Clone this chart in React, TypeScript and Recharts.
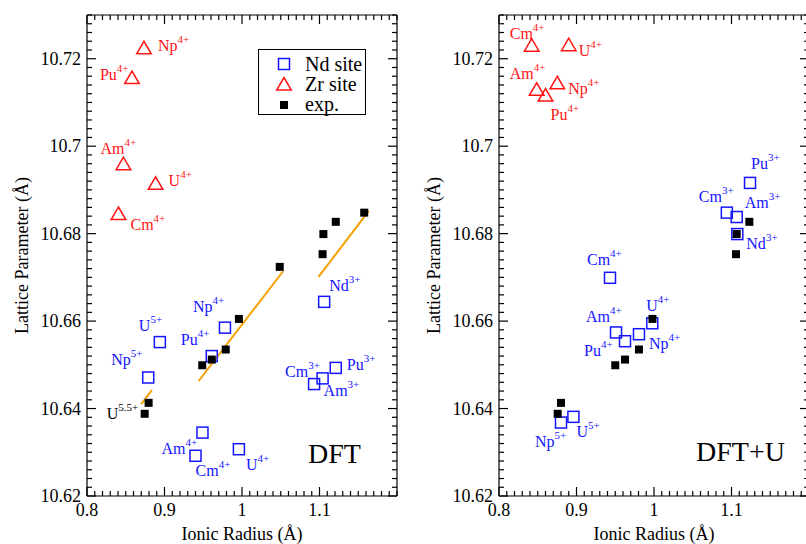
import React from 'react'
import { ScatterChart, Scatter, XAxis, YAxis } from 'recharts'

const FONT = '"Liberation Serif", "Times New Roman", serif'
const BLUE = '#1414ff'
const RED = '#ff1414'
const ORANGE = '#f5a000'

// axis ticks
const xMajor = [0.8, 0.9, 1, 1.1]
const yMajor = [10.62, 10.64, 10.66, 10.68, 10.7, 10.72]
const xTicks = Array.from({ length: 41 }, (_, i) => Math.round((0.8 + i * 0.01) * 1000) / 1000)
const yTicks = Array.from({ length: 56 }, (_, i) => Math.round((10.62 + i * 0.002) * 10000) / 10000)

// ---- DFT panel ----
const dftNdIons = ['Nd', 'U', 'Np', 'Np', 'Pu', 'Pu', 'Cm', 'Am', 'Am', 'Cm', 'U']
const dftNdCharges = ['3+', '5+', '5+', '4+', '4+', '3+', '3+', '3+', '4+', '4+', '4+']
const dftNdRadius = [1.106, 0.894, 0.879, 0.978, 0.961, 1.121, 1.093, 1.104, 0.949, 0.94, 0.996]
const dftNdLattice = [10.6644, 10.6552, 10.6471, 10.6585, 10.652, 10.6493, 10.6456, 10.6469, 10.6345, 10.6292, 10.6307]

const dftZrIons = ['Np', 'Pu', 'Am', 'U', 'Cm']
const dftZrCharges = ['4+', '4+', '4+', '4+', '4+']
const dftZrRadius = [0.8735, 0.858, 0.847, 0.8885, 0.8406]
const dftZrLattice = [10.7225, 10.7157, 10.696, 10.6915, 10.6846]

const dftExpIons = ['', '', '', '', '', '', '', '', '', '', 'U']
const dftExpCharges = ['', '', '', '', '', '', '', '', '', '', '5.5+']
const dftExpRadius = [1.1577, 1.121, 1.105, 1.104, 1.0487, 0.996, 0.979, 0.961, 0.9487, 0.8795, 0.8744]
const dftExpLattice = [10.6848, 10.6827, 10.6799, 10.6753, 10.6724, 10.6605, 10.6535, 10.6512, 10.6499, 10.6413, 10.6388]

const dftFitRadius = [[0.87, 0.8837], [0.944, 1.053], [1.0987, 1.1637]]
const dftFitLattice = [[10.641, 10.6442], [10.6463, 10.6714], [10.6701, 10.6852]]

// ---- DFT+U panel ----
const dftuNdIons = ['Pu', 'Cm', 'Am', 'Nd', 'Cm', 'U', 'Am', 'Np', 'Pu', 'Np', 'U']
const dftuNdCharges = ['3+', '3+', '3+', '3+', '4+', '4+', '4+', '4+', '4+', '5+', '5+']
const dftuNdRadius = [1.1239, 1.094, 1.1067, 1.1075, 0.9432, 0.9978, 0.951, 0.9806, 0.9626, 0.88, 0.896]
const dftuNdLattice = [10.6916, 10.6848, 10.6838, 10.6799, 10.6699, 10.6595, 10.6574, 10.657, 10.6554, 10.6368, 10.6381]

const dftuZrIons = ['Cm', 'U', 'Am', 'Np', 'Pu']
const dftuZrCharges = ['4+', '4+', '4+', '4+', '4+']
const dftuZrRadius = [0.8422, 0.89, 0.8486, 0.8752, 0.86]
const dftuZrLattice = [10.7231, 10.7232, 10.713, 10.7145, 10.7117]

const dftuExpRadius = [1.123, 1.1067, 1.1058, 0.998, 0.9806, 0.9626, 0.95, 0.88, 0.8757]
const dftuExpLattice = [10.6827, 10.6799, 10.6753, 10.6605, 10.6535, 10.6512, 10.6499, 10.6413, 10.6388]

const legendItems = ['Nd site', 'Zr site', 'exp.']

// label placement (text start / baseline, relative to the marker centre)
const dftLabelPos: Record<string, [number, number]> = {
  'zr:Np4+': [14, 3], 'zr:Pu4+': [-32, 2], 'zr:Am4+': [-23, -10], 'zr:U4+': [13, 3], 'zr:Cm4+': [12, 16],
  'nd:Nd3+': [5, -11], 'nd:U5+': [-21, -11], 'nd:Np5+': [-37, -12], 'nd:Np4+': [-32, -16], 'nd:Pu4+': [-31, -11],
  'nd:Pu3+': [11, 2], 'nd:Cm3+': [-29, -7], 'nd:Am3+': [1, 18], 'nd:Am4+': [-41, 21], 'nd:Cm4+': [0, 20],
  'nd:U4+': [7, 21], 'exp:U5.5+': [-38, 5],
}
const dftuLabelPos: Record<string, [number, number]> = {
  'zr:Cm4+': [-22, -6], 'zr:U4+': [10, 11], 'zr:Am4+': [-27, -10], 'zr:Np4+': [11, 11], 'zr:Pu4+': [5, 25],
  'nd:Pu3+': [1, -14], 'nd:Cm3+': [-28, -11], 'nd:Am3+': [8, -9], 'nd:Nd3+': [9, 15], 'nd:Cm4+': [-23, -13],
  'nd:U4+': [-6, -12], 'nd:Am4+': [-30, -10], 'nd:Np4+': [10, 15], 'nd:Pu4+': [-41, 15], 'nd:Np5+': [-26, 24],
  'nd:U5+': [3, 20],
}

const toPoints = (r: number[], a: number[], ions?: string[], charges?: string[]) =>
  r.map((x, i) => ({ x, y: a[i], ion: ions ? ions[i] : '', charge: charges ? charges[i] : '' }))

const isMajor = (v: number, list: number[]) => list.some((m) => Math.abs(m - v) < 1e-6)

const IonLabel = ({ x, y, ion, charge, color }: any) => (
  <text x={x} y={y} fontFamily={FONT} fontSize={16} fill={color}>
    <tspan>{ion}</tspan>
    <tspan dy={-8} fontSize={11}>{charge}</tspan>
  </text>
)

const makeShape = (kind: 'square' | 'triangle' | 'filled', color: string, site: string, pos: Record<string, [number, number]>) =>
  (p: any) => {
    const { cx, cy, payload } = p
    const off = pos[`${site}:${payload.ion}${payload.charge}`]
    let mark
    if (kind === 'square') {
      mark = <rect x={cx - 5.5} y={cy - 5.5} width={11} height={11} fill="none" stroke={color} strokeWidth={1.5} />
    } else if (kind === 'triangle') {
      mark = <polygon points={`${cx},${cy - 6.5} ${cx - 7.3},${cy + 6} ${cx + 7.3},${cy + 6}`} fill="none" stroke={color} strokeWidth={1.5} />
    } else {
      mark = <rect x={cx - 4} y={cy - 4} width={8} height={8} fill={color} />
    }
    return (
      <g>
        {mark}
        {off && <IonLabel x={cx + off[0]} y={cy + off[1]} ion={payload.ion} charge={payload.charge} color={color} />}
      </g>
    )
  }

// inward ticks, major ones longer
const TICK = { stroke: '#000', strokeWidth: 1.2 }
const XTickBottom = ({ x, y, payload }: any) => {
  const major = isMajor(payload.value, xMajor)
  return (
    <g>
      <path d={`M${x},${y}V${y - (major ? 9 : 5)}`} {...TICK} />
      {major && (
        <text x={x} y={y + 20} textAnchor="middle" fontFamily={FONT} fontSize={18} fill="#000">
          {String(payload.value)}
        </text>
      )}
    </g>
  )
}
const XTickTop = ({ x, y, payload }: any) => {
  const major = isMajor(payload.value, xMajor)
  return <path d={`M${x},${y}V${y + (major ? 9 : 5)}`} {...TICK} />
}
const YTickLeft = ({ x, y, payload }: any) => {
  const major = isMajor(payload.value, yMajor)
  return (
    <g>
      <path d={`M${x},${y}H${x + (major ? 9 : 5)}`} {...TICK} />
      {major && (
        <text x={x - 6} y={y + 6} textAnchor="end" fontFamily={FONT} fontSize={18} fill="#000">
          {String(payload.value)}
        </text>
      )}
    </g>
  )
}
const YTickRight = ({ x, y, payload }: any) => {
  const major = isMajor(payload.value, yMajor)
  return <path d={`M${x},${y}H${x - (major ? 9 : 5)}`} {...TICK} />
}

const titleStyle = { fontFamily: FONT, fontSize: 18, fill: '#000' }
const AXIS_LINE = { stroke: '#000', strokeWidth: 1.2 }

function Panel({ nd, zr, exp, fits, pos }: any) {
  return (
    <ScatterChart width={420} height={544} margin={{ top: 14, right: 22, bottom: 0, left: 0 }}>
      <XAxis xAxisId="b" type="number" dataKey="x" domain={[0.8, 1.2]} ticks={xTicks} interval={0}
        allowDataOverflow height={48} tickSize={0} tickMargin={0} tickLine={false} tick={XTickBottom}
        axisLine={AXIS_LINE}
        label={{ value: 'Ionic Radius (Å)', position: 'insideBottom', offset: 4, style: titleStyle }} />
      <XAxis xAxisId="t" orientation="top" type="number" dataKey="x" domain={[0.8, 1.2]} ticks={xTicks} interval={0}
        allowDataOverflow height={1} tickSize={0} tickMargin={0} tickLine={false} tick={XTickTop}
        axisLine={AXIS_LINE} />
      <YAxis yAxisId="l" type="number" dataKey="y" domain={[10.62, 10.73]} ticks={yTicks} interval={0}
        allowDataOverflow width={87} tickSize={0} tickMargin={0} tickLine={false} tick={YTickLeft}
        axisLine={AXIS_LINE}
        label={{ value: 'Lattice Parameter (Å)', angle: -90, position: 'insideLeft', offset: 22, style: { ...titleStyle, textAnchor: 'middle' } }} />
      <YAxis yAxisId="r" orientation="right" type="number" dataKey="y" domain={[10.62, 10.73]} ticks={yTicks} interval={0}
        allowDataOverflow width={1} tickSize={0} tickMargin={0} tickLine={false} tick={YTickRight}
        axisLine={AXIS_LINE} />
      {fits.map((f: any, i: number) => (
        <Scatter key={i} xAxisId="b" yAxisId="l" data={f} line={{ stroke: ORANGE, strokeWidth: 2 }}
          shape={() => <g />} isAnimationActive={false} />
      ))}
      <Scatter xAxisId="b" yAxisId="l" data={zr} shape={makeShape('triangle', RED, 'zr', pos)} isAnimationActive={false} />
      <Scatter xAxisId="b" yAxisId="l" data={nd} shape={makeShape('square', BLUE, 'nd', pos)} isAnimationActive={false} />
      <Scatter xAxisId="b" yAxisId="l" data={exp} shape={makeShape('filled', '#000', 'exp', pos)} isAnimationActive={false} />
    </ScatterChart>
  )
}

function LegendBox() {
  const row = { display: 'flex', alignItems: 'center', height: 20 }
  return (
    <div style={{ position: 'absolute', left: 258, top: 49, width: 108, height: 66, border: '1.5px solid #000',
      background: '#fff', fontFamily: FONT, fontSize: 20, lineHeight: '20px', paddingTop: 4, boxSizing: 'border-box' }}>
      {legendItems.map((name, i) => (
        <div key={name} style={row}>
          <svg width={46} height={20}>
            {i === 0 && <rect x={19.5} y={4.5} width={11} height={11} fill="none" stroke={BLUE} strokeWidth={1.5} />}
            {i === 1 && <polygon points="25,3.5 17.7,16 32.3,16" fill="none" stroke={RED} strokeWidth={1.5} />}
            {i === 2 && <rect x={21} y={7} width={8} height={8} fill="#000" />}
          </svg>
          <span>{name}</span>
        </div>
      ))}
    </div>
  )
}

export default function App() {
  const dftFits = dftFitRadius.map((r, i) => toPoints(r, dftFitLattice[i]))
  const tag = { position: 'absolute' as const, fontFamily: FONT, fontSize: 28, lineHeight: '28px' }
  return (
    <div style={{ position: 'fixed', left: 0, top: 0, width: 806, height: 544, overflow: 'hidden', background: '#fff' }}>
      <div style={{ position: 'absolute', left: 0, top: 0 }}>
        <Panel nd={toPoints(dftNdRadius, dftNdLattice, dftNdIons, dftNdCharges)}
          zr={toPoints(dftZrRadius, dftZrLattice, dftZrIons, dftZrCharges)}
          exp={toPoints(dftExpRadius, dftExpLattice, dftExpIons, dftExpCharges)}
          fits={dftFits} pos={dftLabelPos} />
      </div>
      <div style={{ position: 'absolute', left: 412, top: 0 }}>
        <Panel nd={toPoints(dftuNdRadius, dftuNdLattice, dftuNdIons, dftuNdCharges)}
          zr={toPoints(dftuZrRadius, dftuZrLattice, dftuZrIons, dftuZrCharges)}
          exp={toPoints(dftuExpRadius, dftuExpLattice)}
          fits={[]} pos={dftuLabelPos} />
      </div>
      <LegendBox />
      <div style={{ ...tag, left: 308, top: 440 }}>DFT</div>
      <div style={{ ...tag, left: 696, top: 438 }}>DFT+U</div>
    </div>
  )
}
